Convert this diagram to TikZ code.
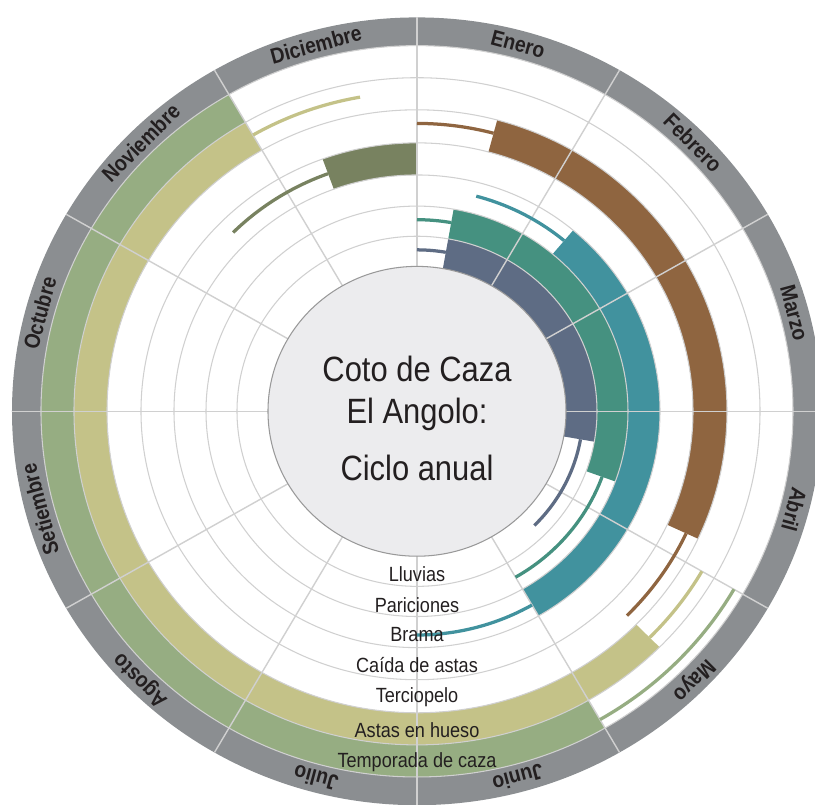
\documentclass[tikz,border=0pt]{standalone}
\usepackage{fontspec}
\setmainfont{Liberation Sans}[FakeStretch=0.88]
\usepackage[dvipsnames]{xcolor}
\usepackage{tikz}

\definecolor{anillo}{RGB}{139,142,145}
\definecolor{centro}{RGB}{236,236,238}
\definecolor{rejilla}{RGB}{208,208,208}
\definecolor{lluvias}{RGB}{94,108,132}
\definecolor{pariciones}{RGB}{69,145,128}
\definecolor{brama}{RGB}{65,146,158}
\definecolor{caida}{RGB}{120,130,96}
\definecolor{terciopelo}{RGB}{143,101,64}
\definecolor{hueso}{RGB}{196,194,136}
\definecolor{caza}{RGB}{150,173,130}
\definecolor{texto}{RGB}{35,31,32}

\begin{document}
\begin{tikzpicture}[x=0.02cm, y=0.01946cm,
  mes/.style={font=\fontsize{12.5pt}{15pt}\selectfont\bfseries, text=texto},
  etiqueta/.style={font=\fontsize{11.7pt}{14pt}\selectfont, anchor=base, text=texto},
  titulo/.style={font=\fontsize{20pt}{24pt}\selectfont, anchor=base, text=texto},
  fino/.style={line width=1.85pt}]
\useasboundingbox (-417,-404.4) rectangle (398,422.9);
\clip (-417,-404.4) rectangle (398,422.9);
\fill[white] (-417,-404.4) rectangle (398,422.9);
% anillo de los meses
\fill[anillo, even odd rule] (0,0) circle[radius=405] circle[radius=376];
% bandas anchas
\foreach \ri/\ro/\s/\e/\c in {149/180/80/-10/lluvias, 180/211/80/-20/pariciones,
    211/243/50/-60/brama, 243/276/110/90/caida, 276/310/75/-25/terciopelo,
    310/343/-45/-240/hueso, 343/376/-60/-240/caza}
  \fill[\c] (\s:\ri) arc[start angle=\s, end angle=\e, radius=\ri]
    -- (\e:\ro) arc[start angle=\e, end angle=\s, radius=\ro] -- cycle;
% rejilla
\foreach \r in {180,211,243,276,310,343,376}
  \draw[rejilla, line width=0.6pt] (0,0) circle[radius=\r];
\foreach \a in {0,30,...,330}
  \draw[rejilla, line width=0.8pt] (\a:149) -- (\a:405);
% lineas finas
\foreach \r/\s/\e/\c in {166/90/80/lluvias, 166/-10/-45/lluvias,
    197/90/80/pariciones, 197/-20/-60/pariciones,
    229/75/50/brama, 230/-60/-90/brama, 260/135/110/caida,
    296/90/75/terciopelo, 297/-25/-45/terciopelo,
    328/120/100/hueso, 329/-30/-45/hueso, 366/-30/-60/caza}
  \draw[fino, \c] (\s:\r) arc[start angle=\s, end angle=\e, radius=\r];
% centro
\filldraw[fill=centro, draw=gray!80, line width=0.6pt] (0,0) circle[radius=149];
\node[titulo] (tit1) at (0,30.6) {Coto de Caza};
\node[titulo] (tit2) at (0,-12.1) {El Angolo:};
\node[titulo] (tit3) at (0,-71.1) {Ciclo anual};
% meses
\foreach \m [count=\i from 0, evaluate=\i as \ang using 75-30*\i] in
    {Enero,Febrero,Marzo,Abril,Mayo,Junio,Julio,Agosto,Setiembre,Octubre,Noviembre,Diciembre}
  \node[mes, rotate=\ang-90] (mes\i) at (\ang:390.5) {\m};
% etiquetas de las bandas
\node[etiqueta] (lluv) at (0,-174.9) {Lluvias};
\node[etiqueta] (pari) at (0,-206.8) {Pariciones};
\node[etiqueta] (bram) at (0,-236.6) {Brama};
\node[etiqueta] (cast) at (0,-268.4) {Caída de astas};
\node[etiqueta] (terc) at (0,-299.9) {Terciopelo};
\node[etiqueta] (hues) at (0,-335.9) {Astas en hueso};
\node[etiqueta] (temp) at (0,-366.7) {Temporada de caza};
\end{tikzpicture}
\end{document}
